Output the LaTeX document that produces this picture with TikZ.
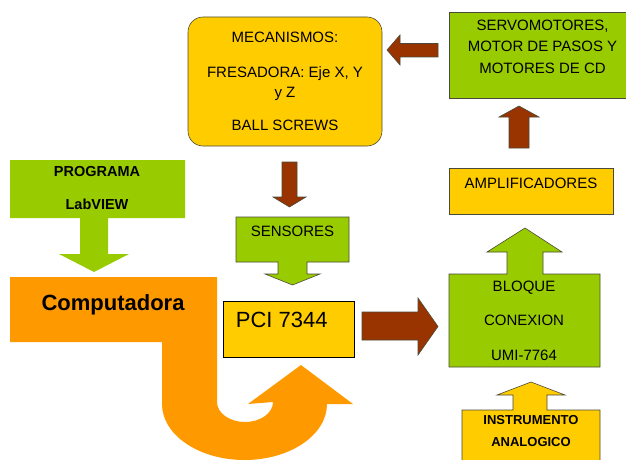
\documentclass[tikz,border=0pt]{standalone}
\usepackage{fontspec}
\setmainfont{Liberation Sans}
\usetikzlibrary{positioning}
\definecolor{CGreen}{HTML}{99CC00}
\definecolor{CYellow}{HTML}{FFCC00}
\definecolor{COrange}{HTML}{FF9900}
\definecolor{CBrown}{HTML}{993300}
\definecolor{CEdge}{HTML}{4A4A3A}

\begin{document}
\begin{tikzpicture}[
  x=1pt, y=1pt,
  greenbox/.style={fill=CGreen, draw=CEdge, line width=0.6pt},
  yellowbox/.style={fill=CYellow, draw=CEdge, line width=0.6pt},
  brownarrow/.style={fill=CBrown, draw=CEdge, line width=0.6pt},
  txt/.style={align=center, inner sep=0pt, font=\fontsize{15}{20}\selectfont},
  boldtxt/.style={align=center, inner sep=0pt, font=\fontsize{13}{22}\selectfont\bfseries}
]
\useasboundingbox (0,0) rectangle (626,-460);
\clip (0,0) rectangle (626,-460);

% left column: program and computer
\fill[CGreen] (10,-160) -- (185,-160) -- (185,-218) -- (108,-218) -- (108,-254) -- (129,-254)
  -- (94,-272) -- (59,-254) -- (80,-254) -- (80,-218) -- (10,-218) -- cycle;
\node[boldtxt, font=\fontsize{14.5}{33}\selectfont\bfseries] (prog) at (97,-188.5) {PROGRAMA\\LabVIEW};
\fill[COrange] (10,-277) -- (217,-277) -- (217,-402)
  arc[start angle=180, end angle=360, x radius=28, y radius=20]
  -- (248,-404) -- (301,-365) -- (353,-404) -- (327,-404)
  arc[start angle=0, end angle=-180, x radius=82.5, y radius=56]
  -- (162,-342) -- (10,-342) -- cycle;
\node[anchor=base, inner sep=0pt, font=\fontsize{22}{26}\selectfont\bfseries] (comp) at (113,-310) {Computadora};

% middle column
\node[yellowbox, txt, rounded corners=15pt, minimum width=194, minimum height=129] (mec) at (285,-81.5)
  {MECANISMOS:\\[15pt]FRESADORA: Eje X, Y\\y Z\\[13pt]BALL SCREWS};
\draw[brownarrow] (282,-162) -- (297,-162) -- (297,-197) -- (306,-197) -- (289.5,-207) -- (273,-197) -- (282,-197) -- cycle;
\draw[greenbox] (236,-217) -- (349,-217) -- (349,-262) -- (307,-262) -- (307,-274) -- (320,-274)
  -- (292.5,-285) -- (265,-274) -- (278,-274) -- (278,-262) -- (236,-262) -- cycle;
\node[txt] (sens) at (292.5,-231) {SENSORES};
\node[fill=CYellow, draw=black, line width=0.6pt, minimum width=131, minimum height=56, inner sep=0pt] (pci) at (288.5,-329) {};
\node[anchor=west, inner sep=0pt, font=\fontsize{22}{26}\selectfont] (pcitxt) at ([xshift=13, yshift=-19]pci.north west) {PCI 7344};
\draw[brownarrow] (362,-312) -- (418,-312) -- (418,-298) -- (438,-326.5) -- (418,-355) -- (418,-340) -- (362,-340) -- cycle;

% right column
\node[greenbox, minimum width=187, minimum height=86, inner sep=0pt] (servo) at (542.5,-55) {};
\node[txt, font=\fontsize{15}{21.5}\selectfont] (servotxt) at (542.5,-46.5) {SERVOMOTORES,\\MOTOR DE PASOS Y\\MOTORES DE CD};
\draw[brownarrow] (438,-43.5) -- (400,-43.5) -- (400,-35) -- (387,-50) -- (400,-65) -- (400,-57) -- (438,-57) -- cycle;
\draw[brownarrow] (509,-148) -- (509,-117) -- (499,-117) -- (519,-106) -- (539,-117) -- (529,-117) -- (529,-148) -- cycle;
\node[yellowbox, minimum width=164, minimum height=46, inner sep=0pt] (ampl) at (531,-191) {};
\node[txt] (ampltxt) at (531,-183) {AMPLIFICADORES};
\draw[greenbox] (449,-367) -- (449,-274) -- (507,-274) -- (507,-252) -- (487,-252) -- (525,-228)
  -- (562,-252) -- (543,-252) -- (543,-274) -- (600,-274) -- (600,-367) -- cycle;
\node[txt, font=\fontsize{15}{34.5}\selectfont] (bloque) at (524,-320.5) {BLOQUE\\CONEXION\\UMI-7764};
\draw[yellowbox] (462,-470) -- (462,-410) -- (513,-410) -- (513,-395) -- (497,-395) -- (531,-382)
  -- (565,-395) -- (547,-395) -- (547,-410) -- (600,-410) -- (600,-470) -- cycle;
\node[boldtxt] (instr) at (531,-431) {INSTRUMENTO\\ANALOGICO};
\end{tikzpicture}
\end{document}
